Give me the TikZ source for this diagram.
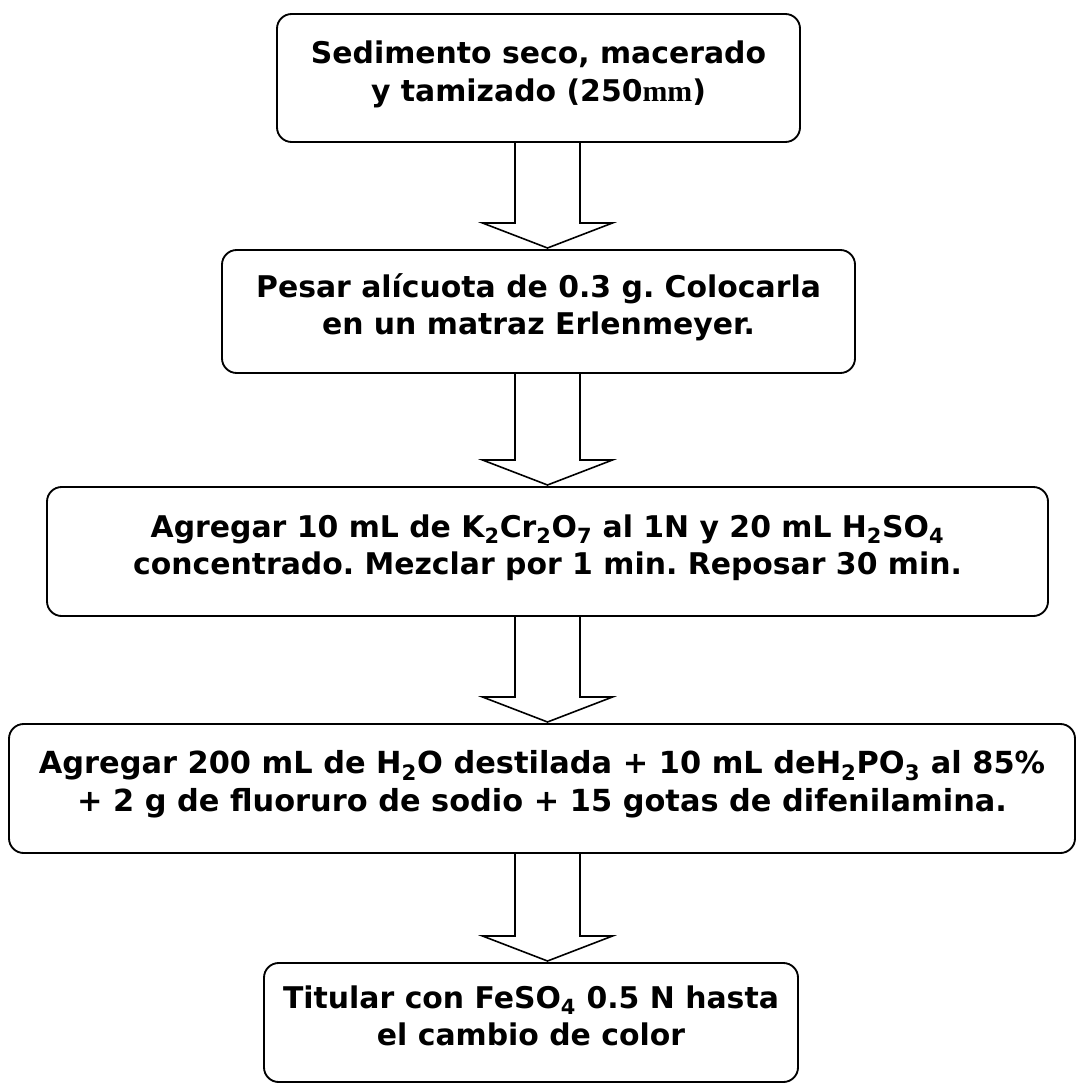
\documentclass[tikz,border=0pt]{standalone}
\usepackage{fontspec}
\setmainfont{DejaVu Sans}
\newfontfamily\mmfont{Liberation Serif}
\usetikzlibrary{calc}
\frenchspacing

\tikzset{every picture/.style={line width=0.75pt}}
\tikzset{
  stepbox/.style={draw, rounded corners=11pt, line width=1.4pt, align=center,
    outer sep=0pt, inner sep=0pt, text height=43pt, text depth=8pt,
    font=\fontsize{22.4}{28}\selectfont\bfseries},
  blockarrow/.style={line width=1.2pt, to path={
    ($(\tikztostart)+(-32.5,0)$) -- ($(\tikztotarget)+(-32.5,-27)$)
    -- ($(\tikztotarget)+(-65,-27)$) -- ($(\tikztotarget)+(0,-2)$)
    -- ($(\tikztotarget)+(65,-27)$) -- ($(\tikztotarget)+(32.5,-27)$)
    -- ($(\tikztostart)+(32.5,0)$) -- cycle}}
}

\begin{document}
\begin{tikzpicture}[x=0.75pt,y=0.75pt,yscale=-1,xscale=1]
\useasboundingbox (0,0) rectangle (1077,1084);

% Steps
\node [stepbox, minimum width=392.25pt, minimum height=96pt] (sedimento) at (538.5,78)
  {Sedimento seco, macerado\\y tamizado (250{\mmfont mm})};
\node [stepbox, minimum width=474.75pt, minimum height=92.25pt] (pesar) at (538.5,311.5)
  {Pesar alícuota de 0.3 g. Colocarla\\en un matraz Erlenmeyer.};
\node [stepbox, minimum width=750.75pt, minimum height=96.75pt] (dicromato) at (547.5,551.5)
  {Agregar 10 mL de K\textsubscript{2}Cr\textsubscript{2}O\textsubscript{7} al 1N y 20 mL H\textsubscript{2}SO\textsubscript{4}\\concentrado. Mezclar por 1 min. Reposar 30 min.};
\node [stepbox, minimum width=799.5pt, minimum height=96.75pt, font=\fontsize{22.8}{28.5}\selectfont\bfseries] (agua) at (542,788.5)
  {Agregar 200 mL de H\textsubscript{2}O destilada + 10 mL deH\textsubscript{2}PO\textsubscript{3} al 85\%\\+ 2 g de fluoruro de sodio + 15 gotas de difenilamina.};
\node [stepbox, minimum width=400.5pt, minimum height=89.25pt] (titular) at (531,1022.5)
  {Titular con FeSO\textsubscript{4} 0.5 N hasta\\el cambio de color};

% Block arrows
\coordinate (ax) at (547.5,0);
\draw [blockarrow] (sedimento.south -| ax) to (pesar.north -| ax);
\draw [blockarrow] (pesar.south -| ax) to (dicromato.north -| ax);
\draw [blockarrow] (dicromato.south -| ax) to (agua.north -| ax);
\draw [blockarrow] (agua.south -| ax) to (titular.north -| ax);
\end{tikzpicture}
\end{document}
